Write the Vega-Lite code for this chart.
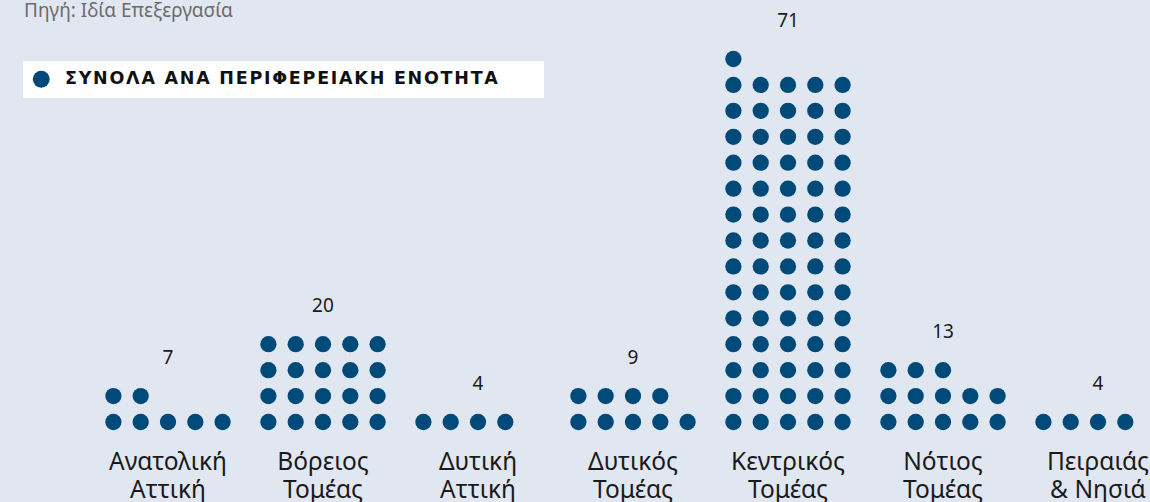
{
  "$schema": "https://vega.github.io/schema/vega-lite/v6.json",
  "width": 1150,
  "height": 448,
  "padding": {"left": 0, "top": 0, "right": 0, "bottom": 54},
  "autosize": {"type": "none"},
  "background": "#e1e7f1",
  "config": {"view": {"stroke": null}, "font": "Noto Sans"},
  "title": {
    "text": "Πηγή: Ιδία Επεξεργασία",
    "anchor": "start",
    "frame": "group",
    "orient": "top",
    "offset": -36,
    "baseline": "alphabetic",
    "dx": 24,
    "font": "Noto Sans",
    "fontSize": 19,
    "fontWeight": "normal",
    "color": "#6b6b6b"
  },
  "data": {
    "values": [
      {"region": "Ανατολική Αττική", "n": 1}, {"region": "Ανατολική Αττική", "n": 2}, {"region": "Ανατολική Αττική", "n": 3}, {"region": "Ανατολική Αττική", "n": 4}, {"region": "Ανατολική Αττική", "n": 5}, {"region": "Ανατολική Αττική", "n": 6}, {"region": "Ανατολική Αττική", "n": 7},
      {"region": "Βόρειος Τομέας", "n": 1}, {"region": "Βόρειος Τομέας", "n": 2}, {"region": "Βόρειος Τομέας", "n": 3}, {"region": "Βόρειος Τομέας", "n": 4}, {"region": "Βόρειος Τομέας", "n": 5}, {"region": "Βόρειος Τομέας", "n": 6}, {"region": "Βόρειος Τομέας", "n": 7}, {"region": "Βόρειος Τομέας", "n": 8}, {"region": "Βόρειος Τομέας", "n": 9}, {"region": "Βόρειος Τομέας", "n": 10}, {"region": "Βόρειος Τομέας", "n": 11}, {"region": "Βόρειος Τομέας", "n": 12}, {"region": "Βόρειος Τομέας", "n": 13}, {"region": "Βόρειος Τομέας", "n": 14}, {"region": "Βόρειος Τομέας", "n": 15}, {"region": "Βόρειος Τομέας", "n": 16}, {"region": "Βόρειος Τομέας", "n": 17}, {"region": "Βόρειος Τομέας", "n": 18}, {"region": "Βόρειος Τομέας", "n": 19}, {"region": "Βόρειος Τομέας", "n": 20},
      {"region": "Δυτική Αττική", "n": 1}, {"region": "Δυτική Αττική", "n": 2}, {"region": "Δυτική Αττική", "n": 3}, {"region": "Δυτική Αττική", "n": 4},
      {"region": "Δυτικός Τομέας", "n": 1}, {"region": "Δυτικός Τομέας", "n": 2}, {"region": "Δυτικός Τομέας", "n": 3}, {"region": "Δυτικός Τομέας", "n": 4}, {"region": "Δυτικός Τομέας", "n": 5}, {"region": "Δυτικός Τομέας", "n": 6}, {"region": "Δυτικός Τομέας", "n": 7}, {"region": "Δυτικός Τομέας", "n": 8}, {"region": "Δυτικός Τομέας", "n": 9},
      {"region": "Κεντρικός Τομέας", "n": 1}, {"region": "Κεντρικός Τομέας", "n": 2}, {"region": "Κεντρικός Τομέας", "n": 3}, {"region": "Κεντρικός Τομέας", "n": 4}, {"region": "Κεντρικός Τομέας", "n": 5}, {"region": "Κεντρικός Τομέας", "n": 6}, {"region": "Κεντρικός Τομέας", "n": 7}, {"region": "Κεντρικός Τομέας", "n": 8}, {"region": "Κεντρικός Τομέας", "n": 9}, {"region": "Κεντρικός Τομέας", "n": 10},
      {"region": "Κεντρικός Τομέας", "n": 11}, {"region": "Κεντρικός Τομέας", "n": 12}, {"region": "Κεντρικός Τομέας", "n": 13}, {"region": "Κεντρικός Τομέας", "n": 14}, {"region": "Κεντρικός Τομέας", "n": 15}, {"region": "Κεντρικός Τομέας", "n": 16}, {"region": "Κεντρικός Τομέας", "n": 17}, {"region": "Κεντρικός Τομέας", "n": 18}, {"region": "Κεντρικός Τομέας", "n": 19}, {"region": "Κεντρικός Τομέας", "n": 20},
      {"region": "Κεντρικός Τομέας", "n": 21}, {"region": "Κεντρικός Τομέας", "n": 22}, {"region": "Κεντρικός Τομέας", "n": 23}, {"region": "Κεντρικός Τομέας", "n": 24}, {"region": "Κεντρικός Τομέας", "n": 25}, {"region": "Κεντρικός Τομέας", "n": 26}, {"region": "Κεντρικός Τομέας", "n": 27}, {"region": "Κεντρικός Τομέας", "n": 28}, {"region": "Κεντρικός Τομέας", "n": 29}, {"region": "Κεντρικός Τομέας", "n": 30},
      {"region": "Κεντρικός Τομέας", "n": 31}, {"region": "Κεντρικός Τομέας", "n": 32}, {"region": "Κεντρικός Τομέας", "n": 33}, {"region": "Κεντρικός Τομέας", "n": 34}, {"region": "Κεντρικός Τομέας", "n": 35}, {"region": "Κεντρικός Τομέας", "n": 36}, {"region": "Κεντρικός Τομέας", "n": 37}, {"region": "Κεντρικός Τομέας", "n": 38}, {"region": "Κεντρικός Τομέας", "n": 39}, {"region": "Κεντρικός Τομέας", "n": 40},
      {"region": "Κεντρικός Τομέας", "n": 41}, {"region": "Κεντρικός Τομέας", "n": 42}, {"region": "Κεντρικός Τομέας", "n": 43}, {"region": "Κεντρικός Τομέας", "n": 44}, {"region": "Κεντρικός Τομέας", "n": 45}, {"region": "Κεντρικός Τομέας", "n": 46}, {"region": "Κεντρικός Τομέας", "n": 47}, {"region": "Κεντρικός Τομέας", "n": 48}, {"region": "Κεντρικός Τομέας", "n": 49}, {"region": "Κεντρικός Τομέας", "n": 50},
      {"region": "Κεντρικός Τομέας", "n": 51}, {"region": "Κεντρικός Τομέας", "n": 52}, {"region": "Κεντρικός Τομέας", "n": 53}, {"region": "Κεντρικός Τομέας", "n": 54}, {"region": "Κεντρικός Τομέας", "n": 55}, {"region": "Κεντρικός Τομέας", "n": 56}, {"region": "Κεντρικός Τομέας", "n": 57}, {"region": "Κεντρικός Τομέας", "n": 58}, {"region": "Κεντρικός Τομέας", "n": 59}, {"region": "Κεντρικός Τομέας", "n": 60},
      {"region": "Κεντρικός Τομέας", "n": 61}, {"region": "Κεντρικός Τομέας", "n": 62}, {"region": "Κεντρικός Τομέας", "n": 63}, {"region": "Κεντρικός Τομέας", "n": 64}, {"region": "Κεντρικός Τομέας", "n": 65}, {"region": "Κεντρικός Τομέας", "n": 66}, {"region": "Κεντρικός Τομέας", "n": 67}, {"region": "Κεντρικός Τομέας", "n": 68}, {"region": "Κεντρικός Τομέας", "n": 69}, {"region": "Κεντρικός Τομέας", "n": 70},
      {"region": "Κεντρικός Τομέας", "n": 71},
      {"region": "Νότιος Τομέας", "n": 1}, {"region": "Νότιος Τομέας", "n": 2}, {"region": "Νότιος Τομέας", "n": 3}, {"region": "Νότιος Τομέας", "n": 4}, {"region": "Νότιος Τομέας", "n": 5}, {"region": "Νότιος Τομέας", "n": 6}, {"region": "Νότιος Τομέας", "n": 7}, {"region": "Νότιος Τομέας", "n": 8}, {"region": "Νότιος Τομέας", "n": 9}, {"region": "Νότιος Τομέας", "n": 10}, {"region": "Νότιος Τομέας", "n": 11}, {"region": "Νότιος Τομέας", "n": 12}, {"region": "Νότιος Τομέας", "n": 13},
      {"region": "Πειραιάς & Νησιά", "n": 1}, {"region": "Πειραιάς & Νησιά", "n": 2}, {"region": "Πειραιάς & Νησιά", "n": 3}, {"region": "Πειραιάς & Νησιά", "n": 4}
    ]
  },
  "transform": [
    {"calculate": "(datum.n - 1) % 5", "as": "col"},
    {"calculate": "floor((datum.n - 1) / 5)", "as": "row"}
  ],
  "encoding": {
    "x": {
      "field": "region",
      "type": "nominal",
      "sort": null,
      "scale": {"range": [99.75, 1166.25], "paddingInner": 0.1194, "paddingOuter": 0},
      "axis": {
        "orient": "bottom",
        "title": null,
        "domain": false,
        "ticks": false,
        "labelAngle": 0,
        "labelFont": "Noto Sans",
        "labelFontSize": 24.5,
        "labelColor": "#1a1a1a",
        "labelPadding": 2,
        "labelBaseline": "top",
        "labelLineHeight": 28,
        "labelLimit": 0,
        "labelOverlap": false,
        "labelExpr": "datum.label == 'Πειραιάς & Νησιά' ? ['Πειραιάς', '& Νησιά'] : split(datum.label, ' ')"
      }
    }
  },
  "layer": [
    {
      "mark": {"type": "circle", "size": 265, "opacity": 1},
      "encoding": {
        "xOffset": {"field": "col", "type": "ordinal", "scale": {"type": "point", "padding": 0.5}},
        "y": {"field": "row", "type": "quantitative", "scale": {"domain": [0, 14], "range": [422, 59]}, "axis": null},
        "color": {
          "datum": "ΣΥΝΟΛΑ ΑΝΑ ΠΕΡΙΦΕΡΕΙΑΚΗ ΕΝΟΤΗΤΑ",
          "type": "nominal",
          "scale": {"range": ["#004a7a"]},
          "legend": {
            "title": null,
            "orient": "none",
            "legendX": 23,
            "legendY": 61,
            "fillColor": "#ffffff",
            "padding": 9.5,
            "symbolType": "circle",
            "symbolSize": 283,
            "symbolStrokeWidth": 0,
            "symbolOpacity": 1,
            "labelFont": "DejaVu Sans",
            "labelFontWeight": "bold",
            "labelFontSize": 17.5,
            "labelColor": "#111111",
            "labelOffset": 15,
            "labelLimit": 0,
            "labelExpr": "join(split(datum.label, ''), '\u200a') + '\u00a0\u00a0\u00a0\u00a0\u00a0\u00a0\u200b'"
          }
        }
      }
    },
    {
      "mark": {"type": "text", "dy": -38, "fontSize": 19, "font": "Noto Sans", "color": "#1a1a1a"},
      "encoding": {
        "y": {"aggregate": "max", "field": "row", "type": "quantitative"},
        "text": {"aggregate": "count", "type": "quantitative"}
      }
    }
  ]
}
